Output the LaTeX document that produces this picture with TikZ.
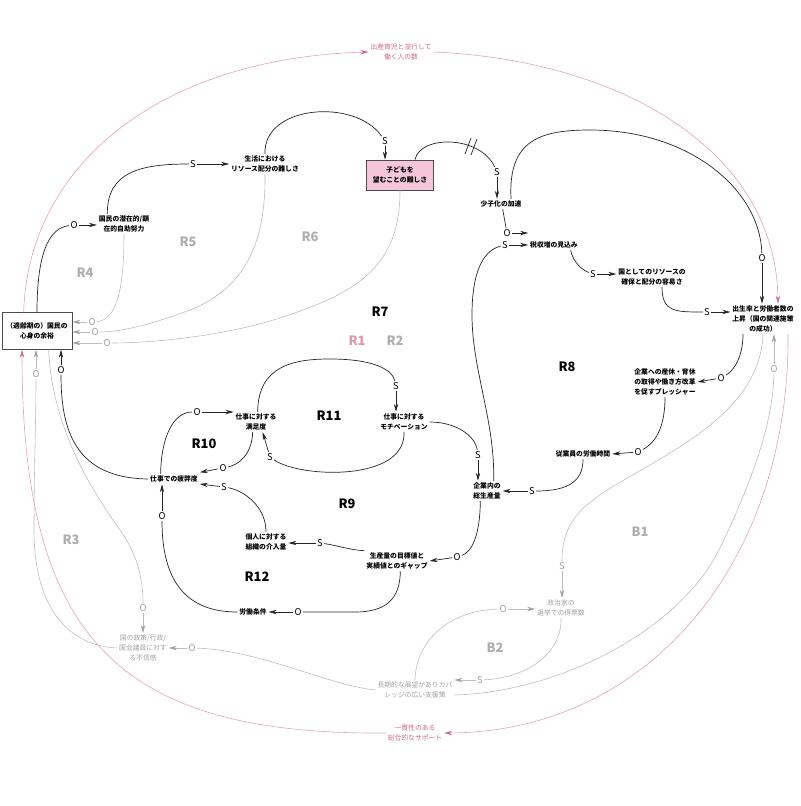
\documentclass[tikz,border=0pt]{standalone}
\usepackage{fontspec}
\setmainfont{Noto Sans CJK JP}
\usetikzlibrary{arrows.meta}
\definecolor{pinkl}{HTML}{DDA3B8}
\definecolor{pinkt}{HTML}{D0668E}
\definecolor{greyl}{HTML}{BDBDBD}
\definecolor{greyt}{HTML}{A0A0A0}
\definecolor{boxpink}{HTML}{F5C6DA}
\tikzset{
  jt/.style={font=\fontsize{5.8}{8.5}\selectfont\bfseries, align=center, inner sep=1.5pt},
  gt/.style={font=\fontsize{5.8}{8.5}\selectfont, text=greyt, align=center, inner sep=1.5pt},
  pt/.style={font=\fontsize{5.8}{8.5}\selectfont, text=pinkt, align=center, inner sep=1.5pt},
  pol/.style={font=\fontsize{8}{8}\selectfont, inner sep=1pt},
  gpol/.style={pol, text=greyt},
  link/.style={line width=0.6pt, black!85},
  arr/.style={link, -{Stealth[length=2.4mm,width=1.3mm]}},
  glink/.style={line width=0.5pt, greyl},
  garr/.style={glink, -{Stealth[length=2.4mm,width=1.3mm,color=greyt]}},
  plink/.style={line width=0.5pt, pinkl},
  parr/.style={plink, -{Stealth[length=2.4mm,width=1.3mm,color=pinkt]}},
  loopk/.style={font=\fontsize{11}{11}\selectfont\bfseries},
  loopg/.style={loopk, text=greyt!85},
  loopp/.style={loopk, text=pinkt!70},
}
\begin{document}
\begin{tikzpicture}[x=0.3mm, y=-0.3mm]
\useasboundingbox (0,0) rectangle (800,806);

% ---------- nodes ----------
\node[pt] (A) at (401,52) {出産育児と並行して\\働く人の数};
\node[jt] (B) at (265,164) {生活における\\リソース配分の難しさ};
\node[jt, draw=black!70, fill=boxpink, line width=0.6pt, minimum width=20mm, minimum height=9mm] (C) at (400,175) {子どもを\\望むことの難しさ};
\node[jt] (D) at (501,204) {少子化の加速};
\node[jt] (E) at (554,245) {税収増の見込み};
\node[jt] (F) at (652,277) {国としてのリソースの\\確保と配分の容易さ};
\node[jt] (G) at (763,319) {出生率と労働者数の\\上昇（国の関連施策\\の成功）};
\node[jt] (H) at (665,382) {企業への産休・育休\\の取得や働き方改革\\を促すプレッシャー};
\node[jt] (I) at (583,454) {従業員の労働時間};
\node[jt] (J) at (487,491) {企業内の\\総生産量};
\node[jt] (K) at (397,561) {生産量の目標値と\\実績値とのギャップ};
\node[jt] (L) at (266,542) {個人に対する\\組織の介入量};
\node[jt] (M) at (253,612) {労働条件};
\node[jt] (N) at (174,479) {仕事での疲弊度};
\node[jt] (O) at (256,422) {仕事に対する\\満足度};
\node[jt] (P) at (404,422) {仕事に対する\\モチベーション};
\node[jt, draw=black!70, fill=white, line width=0.6pt, minimum width=21mm, minimum height=11mm] (Q) at (37,331) {（適齢期の）国民の\\心身の余裕};
\node[jt] (R) at (124,224) {国民の潜在的/顕\\在的自助努力};
\node[gt] (S) at (143,648) {国の政策/行政/\\国会議員に対す\\る不信感};
\node[gt] (T) at (561,608) {政治家の\\選挙での得票数};
\node[gt] (U) at (415,690) {長期的な展望がありカバ\\レッジの広い支援策};
\node[pt] (V) at (415,733) {一貫性のある\\総合的なサポート};

% ---------- loop labels ----------
\node[loopk] (r7) at (380,312) {R7};
\node[loopp] (r1) at (357,341) {R1};
\node[loopg] (r2) at (395,341) {R2};
\node[loopk] (r11) at (329,416) {R11};
\node[loopk] (r10) at (204,444) {R10};
\node[loopk] (r9) at (347,504) {R9};
\node[loopk] (r12) at (257,577) {R12};
\node[loopk] (r8) at (567,367) {R8};
\node[loopg] (r5) at (188,242) {R5};
\node[loopg] (r6) at (310,237) {R6};
\node[loopg] (r4) at (85,273) {R4};
\node[loopg] (r3) at (71,540) {R3};
\node[loopg] (b1) at (640,532) {B1};
\node[loopg] (b2) at (495,648) {B2};

% ---------- black links ----------
\node[pol] (l1) at (193,164) {S};
\draw[link] ([xshift=-5mm]R.north) .. controls (107,172) and (140,164) .. (l1);
\draw[arr] (l1) -- (B.west |- l1);

\node[pol] (l2) at (385,141) {S};
\draw[link] (B.north) .. controls (263,105) and (355,98) .. (l2);
\draw[arr] (l2) -- (l2 |- C.north);

\node[pol] (l3) at (497,172) {S};
\draw[link] ([xshift=4.5mm]C.north) .. controls (420,135) and (480,135) .. (l3);
\draw[arr] (l3) -- (l3 |- D.north);
\draw[link] (465,154) -- (471,138) (471,155) -- (477,139);

\node[pol] (l4) at (762,258) {O};
\draw[link] ([xshift=3mm]D.north) .. controls (508,140) and (540,130) .. (590,130) .. controls (690,130) and (760,190) .. (l4);
\draw[arr] (l4) -- (l4 |- G.north);

\node[pol] (l5) at (507,233) {O};
\draw[link] ([xshift=0.5mm]D.south) -- (l5);
\draw[arr] (l5) -- (E.west |- l5);

\node[pol] (l6) at (505,245) {S};
\draw[link] ([xshift=2mm]J.north) .. controls (495,420) and (472,370) .. (472,315) .. controls (472,268) and (485,250) .. (l6);
\draw[arr] (l6) -- (E.west |- l6);

\node[pol] (l7) at (593,274) {S};
\draw[link] ([xshift=5mm]E.south) .. controls (573,262) and (582,270) .. (l7);
\draw[arr] (l7) -- (F.west |- l7);

\node[pol] (l8) at (707,312) {S};
\draw[link] ([xshift=3mm]F.south) .. controls (662,312) and (675,312) .. (l8);
\draw[arr] (l8) -- (G.west |- l8);

\node[pol] (l9) at (721,378) {O};
\draw[link] ([xshift=-6mm]G.south) .. controls (743,355) and (735,370) .. (l9);
\draw[arr] (l9) -- (H.east);

\node[pol] (l10) at (638,452) {O};
\draw[link] (H.south) .. controls (665,425) and (657,442) .. (l10);
\draw[arr] (l10) -- (I.east);

\node[pol] (l11) at (532,491) {S};
\draw[link] (I.south) .. controls (583,480) and (570,491) .. (l11);
\draw[arr] (l11) -- (J.east);

\node[pol] (l12) at (457,557) {O};
\draw[link] ([xshift=-2mm]J.south) .. controls (480,535) and (472,552) .. (l12);
\draw[arr] (l12) -- (K.east);

\node[pol] (l13) at (320,543) {S};
\draw[link] (K.north west) .. controls (350,550) and (335,545) .. (l13);
\draw[arr] (l13) -- (L.east |- l13);

\node[pol] (l14) at (298,612) {O};
\draw[link] ([xshift=1mm]K.south) .. controls (400,600) and (385,612) .. (355,612) -- (l14);
\draw[arr] (l14) -- (M.east);

\node[pol] (l15) at (162,516) {O};
\draw[link] (M.west) .. controls (185,612) and (162,580) .. (l15);
\draw[arr] (l15) -- (l15 |- N.south);

\node[pol] (l16) at (61,370) {O};
\draw[link] (N.west) .. controls (75,478) and (61,430) .. (l16);
\draw[arr] (l16) -- (l16 |- Q.south);

\node[pol] (l17) at (197,412) {O};
\draw[link] ([xshift=-4mm]N.north) .. controls (161,440) and (172,412) .. (l17);
\draw[arr] (l17) -- (O.west |- l17);

\node[pol] (l18) at (223,468) {O};
\draw[link] ([xshift=-1mm]O.south) .. controls (252,455) and (238,465) .. (l18);
\draw[arr] (l18) -- ([yshift=2mm]N.east);

\node[pol] (l19) at (224,487) {S};
\draw[link] (L.north) .. controls (266,505) and (242,490) .. (l19);
\draw[arr] (l19) -- ([yshift=-1.5mm]N.east);

\node[pol] (l20) at (396,386) {S};
\draw[link] ([xshift=0.5mm]O.north) .. controls (258,365) and (295,359) .. (330,359) .. controls (370,359) and (392,368) .. (l20);
\draw[arr] (l20) -- (l20 |- P.north);

\node[pol] (l21) at (270,457) {S};
\draw[link] (P.south) .. controls (406,482) and (300,478) .. (l21);
\draw[arr] (l21) -- ([xshift=2mm]O.south);

\node[pol] (l22) at (478,455) {S};
\draw[link] (P.east) .. controls (455,422) and (475,435) .. (l22);
\draw[arr] (l22) -- (l22 |- J.north);

\node[pol] (l23) at (74,225) {O};
\draw[link] (Q.north) .. controls (37,255) and (48,228) .. (l23);
\draw[arr] (l23) -- (R.west |- l23);

% ---------- grey links ----------
\node[gpol] (l24) at (92,322) {O};
\draw[glink] (R.south) .. controls (124,295) and (115,320) .. (l24);
\draw[garr] (l24) -- (Q.east |- l24);

\node[gpol] (l25) at (95,332) {O};
\draw[glink] (B.south) .. controls (266,250) and (240,290) .. (190,310) .. controls (150,325) and (120,332) .. (l25);
\draw[garr] (l25) -- (Q.east |- l25);

\node[gpol] (l26) at (107,343) {O};
\draw[glink] (C.south) .. controls (400,265) and (360,292) .. (280,318) .. controls (220,337) and (150,343) .. (l26);
\draw[garr] (l26) -- (Q.east |- l26);

\node[gpol] (l27) at (143,608) {O};
\draw[glink] ([xshift=3.5mm]Q.south) .. controls (52,430) and (95,495) .. (120,530) .. controls (138,555) and (143,580) .. (l27);
\draw[garr] (l27) -- (l27 |- S.north);

\node[gpol] (l28) at (36,374) {O};
\draw[glink] (S.west) .. controls (70,646) and (34,610) .. (34,530) .. controls (34,470) and (36,420) .. (l28);
\draw[garr] (l28) -- (l28 |- Q.south);

\node[gpol] (l29) at (192,648) {O};
\draw[glink] (U.west) .. controls (330,686) and (260,650) .. (l29);
\draw[garr] (l29) -- (S.east |- l29);

\node[gpol] (l30) at (480,680) {S};
\draw[glink] (T.south) .. controls (562,655) and (525,678) .. (l30);
\draw[garr] (l30) -- (U.east |- l30);

\node[gpol] (l31) at (503,609) {O};
\draw[glink] (U.north) .. controls (416,640) and (450,610) .. (l31);
\draw[garr] (l31) -- (T.west |- l31);

\node[gpol] (l32) at (562,566) {S};
\draw[glink] (G.south) .. controls (760,420) and (650,460) .. (600,495) .. controls (570,515) and (562,535) .. (l32);
\draw[garr] (l32) -- (l32 |- T.north);

\node[gpol] (l33) at (774,369) {O};
\draw[glink] ([yshift=-1.5mm]U.east) .. controls (560,692) and (680,630) .. (720,548) .. controls (755,475) and (773,420) .. (l33);
\draw[garr] (l33) -- (l33 |- G.south);

% ---------- pink links ----------
\draw[parr] ([xshift=-4mm]Q.north) .. controls (28,165) and (160,58) .. (A.west);
\draw[parr] (A.east) .. controls (620,60) and (776,150) .. ([xshift=4.5mm]G.north);
\draw[parr] ([xshift=7.5mm]G.south) .. controls (790,560) and (650,732) .. (V.east);
\draw[parr] (V.west) .. controls (120,735) and (22,640) .. ([xshift=-4.5mm]Q.south);
\end{tikzpicture}
\end{document}
